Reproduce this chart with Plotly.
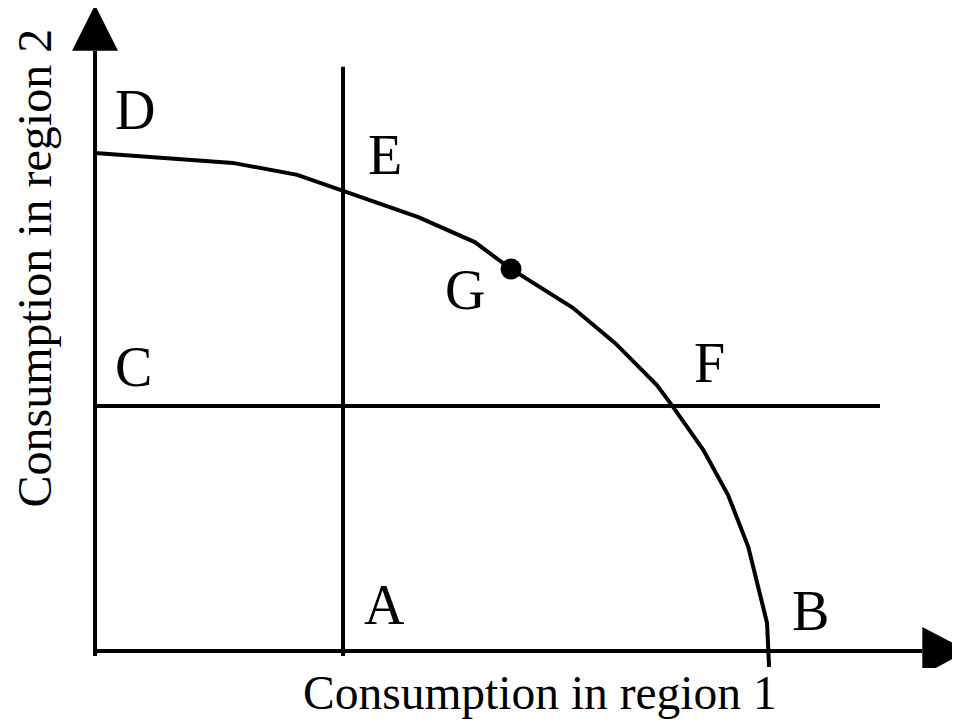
import plotly.graph_objects as go

# frontier between consumption in region 1 (x) and region 2 (y)
frontier_x = [0, 20.5, 30.1, 36.9, 48.1, 56.5, 61.9, 71.1, 77.4, 83.6, 85.9, 90.5, 94.2, 97.2, 100.0, 100.3]
frontier_y = [100, 98.0, 95.6, 92.4, 87.1, 82.1, 76.7, 68.9, 61.8, 53.4, 49.2, 40.4, 31.3, 20.9, 5.6, -3.2]

# the two reference lines and point G
line_x = 36.9
line_y = 49.2
point_g = (61.9, 76.7)

labels = ["D", "E", "G", "F", "C", "A", "B"]
label_x = [5.95, 43.2, 55.1, 91.4, 5.65, 43.0, 106.4]
label_y = [108.6, 99.6, 72.5, 57.8, 57.0, 9.2, 8.0]

x_title = "Consumption in region 1"
y_title = "Consumption in region 2"

LW = 4
BLACK = "black"
FONT = "Liberation Serif"

fig = go.Figure()

# curve
fig.add_trace(go.Scatter(x=frontier_x, y=frontier_y, mode="lines",
                         line=dict(color=BLACK, width=LW), hoverinfo="skip"))

# axes as plain lines
fig.add_shape(type="line", x0=0, y0=-1, x1=0, y1=120.5, line=dict(color=BLACK, width=LW))
fig.add_shape(type="line", x0=0, y0=0, x1=123.1, y1=0, line=dict(color=BLACK, width=LW))

# arrowheads
fig.add_shape(type="path", path="M -3.42,120.5 L 0,129.7 L 3.42,120.5 Z",
              fillcolor=BLACK, line=dict(color=BLACK, width=0))
fig.add_shape(type="path", path="M 123.1,4.82 L 129.9,0 L 125.1,-3.4 L 123.1,-3.4 Z",
              fillcolor=BLACK, line=dict(color=BLACK, width=0))

# vertical and horizontal lines
fig.add_shape(type="line", x0=line_x, y0=-1, x1=line_x, y1=117.3, line=dict(color=BLACK, width=LW))
fig.add_shape(type="line", x0=0, y0=line_y, x1=116.8, y1=line_y, line=dict(color=BLACK, width=LW))

# point G
fig.add_trace(go.Scatter(x=[point_g[0]], y=[point_g[1]], mode="markers",
                         marker=dict(color=BLACK, size=21), hoverinfo="skip"))

for t, x, y in zip(labels, label_x, label_y):
    fig.add_annotation(x=x, y=y, text=t, showarrow=False,
                       font=dict(family=FONT, size=56, color=BLACK))

fig.add_annotation(x=66.2, y=-8.4, text=x_title, showarrow=False,
                   font=dict(family=FONT, size=47.5, color=BLACK))
fig.add_annotation(x=-9.0, y=76.9, text=y_title, showarrow=False, textangle=-90,
                   font=dict(family=FONT, size=48, color=BLACK))

# ranges offset for the 8px page margin around the plot
fig.update_xaxes(range=[-12.95, 129.9], visible=False)
fig.update_yaxes(range=[-16.27, 129.1], visible=False)
fig.update_layout(width=960, height=724, margin=dict(l=0, r=0, t=0, b=0),
                  paper_bgcolor="white", plot_bgcolor="white", showlegend=False)

fig.write_html("out.html")
